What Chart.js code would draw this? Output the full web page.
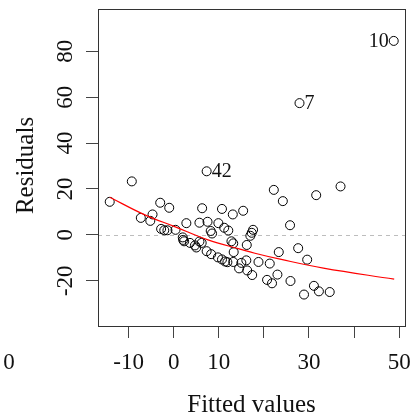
<!DOCTYPE html>
<html>
<head>
<meta charset="utf-8">
<script src="https://cdn.jsdelivr.net/npm/chart.js"></script>
<style>
  html, body { margin: 0; padding: 0; background: #fff; }
</style>
</head>
<body>
<canvas id="chart" width="413" height="415"></canvas>
<script>
// residuals vs fitted
const fitted = [-14.2, -9.3, -7.3, -5.2, -4.7, -3.0, -1.0, -2.8, -2.1, -1.4, 0.4, 2.8, 2.0, 2.1, 2.3, 3.6,
  4.7, 5.0, 5.7, 6.2, 7.3, 8.3, 5.7, 6.3, 7.5, 8.2, 8.5, 7.3, 9.9, 10.7, 11.2, 12.1, 13.1, 15.4, 12.8, 13.2,
  13.3, 9.8, 10.7, 11.4, 11.9, 13.2, 14.5, 15.0, 16.1, 16.3, 17.4, 16.2, 17.0, 17.3, 17.6, 22.2, 24.2, 25.8,
  31.6, 37.0, 23.3, 27.6, 29.6, 18.8, 21.3, 23.0, 20.7, 21.8, 25.9, 31.1, 32.2, 34.6, 28.9, 27.9, 48.8];
const residuals = [14.4, 23.3, 7.4, 6.1, 8.9, 14.0, 11.8, 2.6, 2.0, 2.0, 2.2, 5.1, -1.1, -2.2, -2.8, -3.5,
  -4.6, -5.5, -2.9, -3.5, -7.1, -8.4, 5.3, 11.6, 5.7, 1.7, 0.6, 27.7, 5.1, 11.3, 3.1, 1.9, 8.9, 10.5, -2.8, -3.7,
  -7.5, -9.8, -10.7, -11.6, -11.9, -11.8, -14.6, -12.2, -11.1, -15.5, -17.5, -4.4, -0.4, 0.9, 2.2, 19.6, 14.7, 4.2,
  17.3, 21.1, -7.5, -5.8, -10.8, -11.8, -12.5, -17.3, -19.6, -21.1, -20.1, -22.2, -24.6, -24.9, -26.0, 57.4, 84.5];

// observations flagged with their row number
const labelledIdx = [27, 69, 70];
const labelledNames = ['42', '7', '10'];

// smoother (red line)
const smoothX = [-14.2, -6.4, 0.2, 7.6, 14.7, 18.0, 23.6, 33.2, 48.9];
const smoothY = [16.4, 8.7, 3.6, -2.2, -6.2, -8.0, -10.6, -14.5, -19.3];

const xTicks = [-10, 0, 10, 20, 30, 40, 50];
const xTickLabels = ['-10', '0', '10', '', '30', '', '50'];
const yTicks = [-20, 0, 20, 40, 60, 80];
const yTickLabels = ['-20', '0', '20', '40', '60', '80'];

const serif = '"Liberation Serif", "DejaVu Serif", serif';

const textPlugin = {
  id: 'rtext',
  beforeDatasetsDraw(chart) {
    const { ctx, chartArea: a, scales: { y } } = chart;
    const y0 = Math.round(y.getPixelForValue(0)) + 0.5;
    ctx.save();
    ctx.strokeStyle = '#bdbdbd';
    ctx.lineWidth = 1;
    ctx.setLineDash([4, 4]);
    ctx.beginPath();
    ctx.moveTo(a.left, y0);
    ctx.lineTo(a.right, y0);
    ctx.stroke();
    ctx.restore();
  },
  afterDraw(chart) {
    const { ctx, chartArea: a, scales: { x, y } } = chart;
    ctx.save();
    // box
    ctx.strokeStyle = '#333';
    ctx.lineWidth = 1;
    ctx.strokeRect(a.left + 0.5, a.top + 0.5, a.right - a.left, a.bottom - a.top);

    ctx.fillStyle = '#111';
    ctx.font = '23px ' + serif;
    ctx.textBaseline = 'alphabetic';
    ctx.textAlign = 'center';
    xTicks.forEach((v, i) => {
      ctx.fillText(xTickLabels[i], x.getPixelForValue(v), 369);
    });
    ctx.fillText('0', 9, 369);

    yTicks.forEach((v, i) => {
      ctx.save();
      ctx.translate(72, y.getPixelForValue(v));
      ctx.rotate(-Math.PI / 2);
      ctx.fillText(yTickLabels[i], 0, 0);
      ctx.restore();
    });

    ctx.font = '25px ' + serif;
    ctx.fillText('Fitted values', (a.left + a.right) / 2, 412);
    ctx.save();
    ctx.translate(33, (a.top + a.bottom) / 2 - 2);
    ctx.rotate(-Math.PI / 2);
    ctx.fillText('Residuals', 0, 0);
    ctx.restore();

    // point ids
    ctx.font = '20px ' + serif;
    labelledIdx.forEach((idx, i) => {
      const px = x.getPixelForValue(fitted[idx]);
      const py = y.getPixelForValue(residuals[idx]);
      if (px > a.right - 30) {
        ctx.textAlign = 'right';
        ctx.fillText(labelledNames[i], px - 5, py + 6);
      } else {
        ctx.textAlign = 'left';
        ctx.fillText(labelledNames[i], px + 5, py + 6);
      }
    });
    ctx.restore();
  }
};

new Chart(document.getElementById('chart'), {
  type: 'scatter',
  data: {
    datasets: [
      {
        data: fitted.map((f, i) => ({ x: f, y: residuals[i] })),
        pointRadius: 4.5,
        pointBorderColor: '#000',
        pointBorderWidth: 1,
        pointBackgroundColor: 'rgba(0,0,0,0)',
        clip: false,
        order: 2
      },
      {
        type: 'line',
        data: smoothX.map((f, i) => ({ x: f, y: smoothY[i] })),
        borderColor: '#ff0000',
        borderWidth: 1.2,
        pointRadius: 0,
        tension: 0.4,
        fill: false,
        order: 1
      }
    ]
  },
  options: {
    responsive: false,
    animation: false,
    devicePixelRatio: 1,
    layout: { padding: { top: 9, right: 8, left: 0, bottom: 0 } },
    plugins: { legend: { display: false }, tooltip: { enabled: false } },
    scales: {
      x: {
        type: 'linear',
        min: -16.8,
        max: 51.3,
        afterFit: s => { s.height = 89; },
        afterBuildTicks: s => { s.ticks = xTicks.map(v => ({ value: v })); },
        border: { display: false },
        grid: { drawOnChartArea: false, drawTicks: true, tickLength: 12, color: '#444' },
        ticks: { display: false }
      },
      y: {
        type: 'linear',
        min: -39.7,
        max: 98.4,
        afterFit: s => { s.width = 98; },
        afterBuildTicks: s => { s.ticks = yTicks.map(v => ({ value: v })); },
        border: { display: false },
        grid: { drawOnChartArea: false, drawTicks: true, tickLength: 12, color: '#444' },
        ticks: { display: false }
      }
    }
  },
  plugins: [textPlugin]
});
</script>
</body>
</html>
